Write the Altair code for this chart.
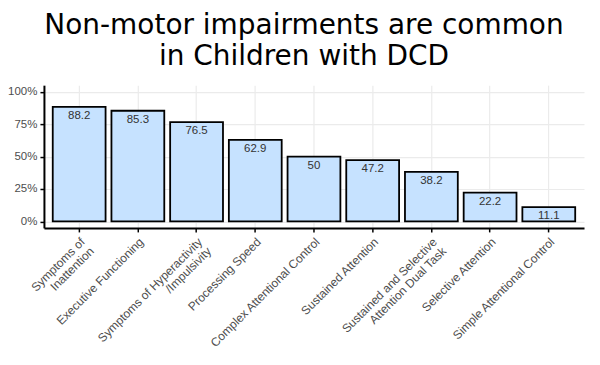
import altair as alt
import pandas as pd

categories = [
    "Symptoms of\nInattention",
    "Executive Functioning",
    "Symptoms of Hyperactivity\n/Impulsivity",
    "Processing Speed",
    "Complex Attentional Control",
    "Sustained Attention",
    "Sustained and Selective\nAttention Dual Task",
    "Selective Attention",
    "Simple Attentional Control",
]
values = [88.2, 85.3, 76.5, 62.9, 50, 47.2, 38.2, 22.2, 11.1]
y_ticks = [0, 0.25, 0.5, 0.75, 1.0]

df = pd.DataFrame({"cat": categories, "val": values})
df["frac"] = df["val"] / 100
df["lab"] = df["val"].map(lambda v: f"{v:g}")

x_enc = alt.X(
    "cat:N",
    sort=categories,
    title=None,
    scale=alt.Scale(paddingInner=0.1, paddingOuter=0.15),
    axis=alt.Axis(
        labelAngle=315,
        labelAlign="right",
        labelBaseline="top",
        labelExpr="split(datum.label, '\\n')",
        labelFont="Liberation Sans",
        labelFontSize=12,
        labelColor="#4d4d4d",
        labelPadding=4,
        labelLineHeight=13,
        domainColor="black",
        domainWidth=2,
        tickColor="black",
        tickWidth=1.5,
        tickSize=4,
        grid=True,
        gridColor="#ebebeb",
        gridWidth=1.2,
        bandPosition=0.5,
        labelOverlap=False,
        labelBound=False,
    ),
)

y_enc = alt.Y(
    "frac:Q",
    title=None,
    scale=alt.Scale(domain=[-0.05, 1.05], nice=False, zero=False),
    axis=alt.Axis(
        values=y_ticks,
        format=".0%",
        labelFont="Liberation Sans",
        labelFontSize=11.5,
        labelColor="#4d4d4d",
        labelPadding=3,
        labelOverlap=False,
        labelFlush=False,
        domainColor="black",
        domainWidth=2,
        tickColor="black",
        tickWidth=1.5,
        tickSize=4,
        grid=True,
        gridColor="#ebebeb",
        gridWidth=1.2,
    ),
)

bars = alt.Chart(df).mark_bar(
    fill="#c6e2ff", stroke="black", strokeWidth=1.8
).encode(x=x_enc, y=y_enc, y2=alt.datum(0))

texts = alt.Chart(df).mark_text(
    baseline="top", dy=3, font="Liberation Sans", fontSize=11.5, color="#333333"
).encode(x=x_enc, y=y_enc, text="lab:N")

chart = (
    alt.layer(bars, texts)
    .properties(
        width=541,
        height=143,
        autosize=alt.AutoSizeParams(type="none"),
        padding={"left": 36, "top": 77, "right": 8, "bottom": 130},
        title=alt.TitleParams(
            text=["Non-motor impairments are common", "in Children with DCD"],
            font="DejaVu Sans",
            fontSize=28,
            fontWeight="normal",
            color="black",
            anchor="middle",
            lineHeight=31,
            offset=14,
            dx=-10,
        ),
    )
    .configure_view(stroke=None)
    .configure_axisY(labelOverlap=False)
)

chart.save("out.html", embed_options={"renderer": "svg", "actions": False})
